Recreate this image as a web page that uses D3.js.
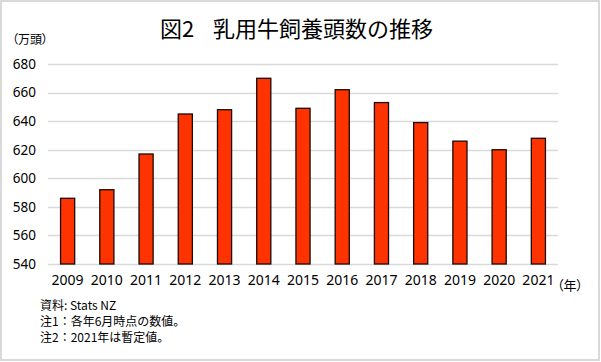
<!DOCTYPE html>
<html>
<head>
<meta charset="utf-8">
<script src="https://cdn.jsdelivr.net/npm/d3@7"></script>
<style>
  body { margin: 0; background: #fff; }
  svg { display: block; }
  text { font-family: "Noto Sans CJK JP", "Noto Sans", sans-serif; fill: #000; }
  .num { font-family: "Noto Sans", sans-serif; }
</style>
</head>
<body>
<div id="chart"></div>
<script>
// data (10,000 head)
var years = ['2009', '2010', '2011', '2012', '2013', '2014', '2015',
             '2016', '2017', '2018', '2019', '2020', '2021'];
var herd = [586, 592, 617, 645, 648, 670, 649, 662, 653, 639, 626, 620, 628];
var yTicks = [540, 560, 580, 600, 620, 640, 660, 680];
var notes = ['資料: Stats NZ', '注1：各年6月時点の数値。', '注2：2021年は暫定値。'];

var w = 601,
    h = 362;

var svg = d3.select('#chart').append('svg')
    .attr('width', w)
    .attr('height', h);

// outer frame
svg.append('rect')
    .attr('x', 1).attr('y', 1)
    .attr('width', w - 3).attr('height', h - 3)
    .attr('fill', '#fff')
    .attr('stroke', '#d9d9d9')
    .attr('stroke-width', 2);

var x = d3.scaleBand()
    .domain(years)
    .range([48, 558])
    .paddingInner(0.64)
    .paddingOuter(0.32);

var y = d3.scaleLinear()
    .domain([540, 680])
    .range([264, 64]);

// gridlines
svg.selectAll('.grid')
    .data(yTicks)
    .enter()
    .append('line')
    .attr('x1', 48)
    .attr('x2', 558)
    .attr('y1', function(d) { return Math.round(y(d)) + 0.5; })
    .attr('y2', function(d) { return Math.round(y(d)) + 0.5; })
    .attr('stroke', '#d9d9d9')
    .attr('stroke-width', 1.3);

// y labels
var yAxis = svg.append('g')
    .attr('transform', 'translate(36,0)')
    .call(d3.axisLeft(y).tickValues(yTicks).tickSize(0).tickPadding(0));
yAxis.select('.domain').remove();
yAxis.selectAll('text')
    .attr('class', 'num')
    .attr('font-size', '13.5px')
    .attr('fill', '#000');

// bars
svg.selectAll('.bar')
    .data(herd)
    .enter()
    .append('rect')
    .attr('x', function(d, i) { return x(years[i]); })
    .attr('y', function(d) { return y(d); })
    .attr('width', x.bandwidth())
    .attr('height', function(d) { return y(540) - y(d); })
    .attr('fill', '#ff3300')
    .attr('stroke', '#1a0a05')
    .attr('stroke-width', 1.3);

// x labels
var xAxis = svg.append('g')
    .attr('transform', 'translate(0,' + 275 + ')')
    .call(d3.axisBottom(x).tickSize(0).tickPadding(0));
xAxis.select('.domain').remove();
xAxis.selectAll('text')
    .attr('class', 'num')
    .attr('font-size', '14px')
    .attr('fill', '#000');

svg.append('text')
    .attr('x', 557)
    .attr('y', 290)
    .attr('font-size', '13px')
    .style('font-feature-settings', '"palt"')
    .text('（年）');

svg.append('text')
    .attr('x', 12)
    .attr('y', 44)
    .attr('font-size', '12px')
    .style('font-feature-settings', '"palt"')
    .text('（万頭）');

// title
var title = svg.append('text')
    .attr('y', 37)
    .attr('font-size', '22px');
title.append('tspan').attr('x', 160).text('図2');
title.append('tspan').attr('x', 213).text('乳用牛飼養頭数の推移');

svg.selectAll('.note')
    .data(notes)
    .enter()
    .append('text')
    .attr('x', 40)
    .attr('y', function(d, i) { return 310 + i * 16; })
    .attr('font-size', '12px')
    .text(function(d) { return d; });
</script>
</body>
</html>
